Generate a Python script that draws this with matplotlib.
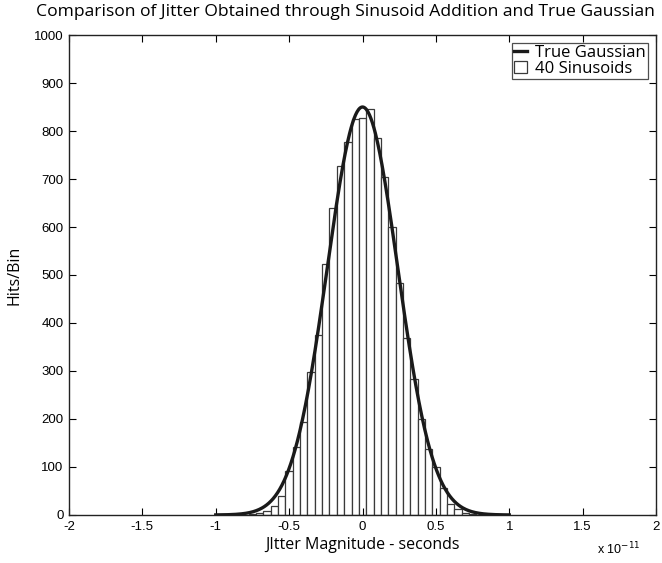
import matplotlib
matplotlib.use("Agg")
import matplotlib.pyplot as plt
import numpy as np

# histogram of 40-sinusoid jitter, bin centres in units of 1e-11 s
bin_centers = [-0.75, -0.70, -0.65, -0.60, -0.55, -0.50, -0.45, -0.40, -0.35, -0.30,
               -0.25, -0.20, -0.15, -0.10, -0.05, 0.00, 0.05, 0.10, 0.15, 0.20,
               0.25, 0.30, 0.35, 0.40, 0.45, 0.50, 0.55, 0.60, 0.65, 0.70, 0.75]
hits = [1, 4, 8, 18, 39, 92, 141, 194, 297, 374,
        523, 640, 727, 777, 826, 827, 846, 785, 704, 600,
        483, 369, 283, 200, 138, 99, 56, 22, 12, 5, 2]
bin_width = 0.05

# true gaussian
gauss_peak = 850
gauss_mu = 0.0
gauss_sigma = 0.24
gauss_range = (-1.0, 1.0)

xticks = [-2, -1.5, -1, -0.5, 0, 0.5, 1, 1.5, 2]
xticklabels = ["-2", "-1.5", "-1", "-0.5", "0", "0.5", "1", "1.5", "2"]
yticks = list(range(0, 1001, 100))

fig = plt.figure(figsize=(6.62, 5.63), dpi=100)
ax = fig.add_axes([0.1042, 0.0853, 0.8868, 0.8525])

bars = ax.bar(bin_centers, hits, width=bin_width, color="white",
              edgecolor="#3a3a3a", linewidth=0.9, label="40 Sinusoids")

xg = np.linspace(gauss_range[0], gauss_range[1], 400)
yg = gauss_peak * np.exp(-(xg - gauss_mu) ** 2 / (2 * gauss_sigma ** 2))
line, = ax.plot(xg, yg, color="#1a1a1a", lw=2.4, label="True Gaussian")

ax.set_xlim(-2, 2)
ax.set_ylim(0, 1000)
ax.set_xticks(xticks)
ax.set_xticklabels(xticklabels)
ax.set_yticks(yticks)
ax.tick_params(direction="in", top=True, right=True, length=5, width=0.8,
               labelsize=9.5, pad=4)
for lab in ax.get_xticklabels() + ax.get_yticklabels():
    lab.set_family("Liberation Sans")
for s in ax.spines.values():
    s.set_linewidth(1.0)
    s.set_color("#222222")

fig.text(0.522, 0.978, "Comparison of Jitter Obtained through Sinusoid Addition and True Gaussian",
         ha="center", va="center", fontsize=12.6, family="Open Sans")
ax.set_xlabel("JItter Magnitude - seconds", fontsize=11.5, family="Open Sans", labelpad=3)
ax.set_ylabel("Hits/Bin", fontsize=11.5, family="Open Sans", labelpad=8)

fig.text(0.968, 0.025, r"x 10$^{-11}$", ha="right", va="center", fontsize=9,
         family="Liberation Sans")

leg = ax.legend(handles=[line, bars], labels=["True Gaussian", "40 Sinusoids"],
                loc="upper right", frameon=True, fancybox=False,
                prop={"family": "Open Sans", "size": 12},
                handlelength=0.8, handletextpad=0.5, borderpad=0.1,
                labelspacing=0.0, borderaxespad=0.5)
leg.get_frame().set_edgecolor("#222222")
leg.get_frame().set_linewidth(0.9)

fig.savefig("out.png", dpi=100)
